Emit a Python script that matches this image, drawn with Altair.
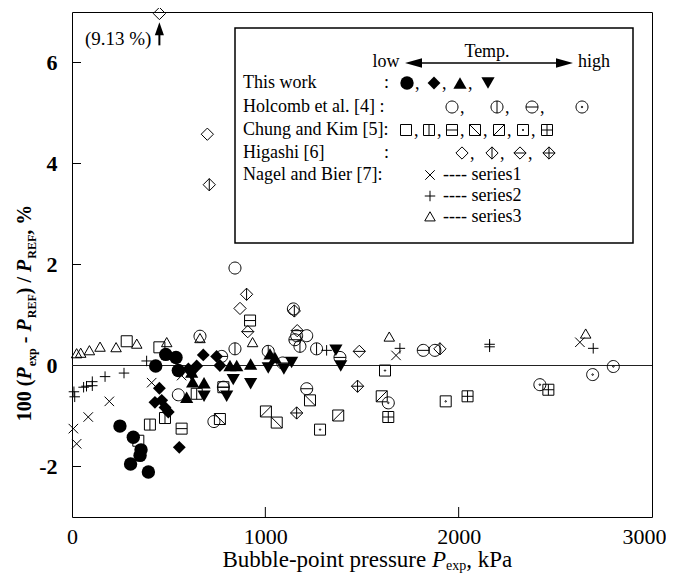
import altair as alt
import pandas as pd

# ---------------- data: x = bubble-point pressure (kPa), y = 100(Pexp-Pref)/Pref (%) ----------------
# This work
tw_circle_x = [248, 303, 317, 352, 357, 395, 433, 485, 538, 550]
tw_circle_y = [-1.20, -1.95, -1.42, -1.78, -1.67, -2.11, -0.01, 0.22, 0.16, -0.10]
tw_diamond_x = [429, 452, 464, 481, 498, 555, 602, 645, 679, 748, 765]
tw_diamond_y = [-0.73, -0.45, -0.69, -0.83, -0.92, -1.62, -0.07, -0.01, 0.21, 0.18, 0.00]
tw_tri_x = [593, 619, 624, 683, 817, 852, 924, 1024, 1050]
tw_tri_y = [-0.63, -0.13, -0.32, -0.34, 0.00, 0.00, 0.03, 0.23, 0.16]
tw_tridown_x = [619, 683, 800, 834, 924, 1015, 1096, 1136, 1365, 1390]
tw_tridown_y = [-0.20, -0.61, -0.61, -0.28, -0.36, -0.05, -0.07, 0.06, 0.30, -0.01]
# Holcomb et al. [4]
ho_circle_x = [550, 662, 734, 843, 1145, 1162, 1214, 1877]
ho_circle_y = [-0.58, 0.58, -1.11, 1.93, 1.12, 0.59, 0.59, 0.30]
ho_cvert_x = [843, 1015, 1179, 1265]
ho_cvert_y = [0.33, 0.28, 0.38, 0.33]
ho_choriz_x = [774, 783, 1090, 1153, 1214, 1386, 1817]
ho_choriz_y = [0.18, -0.43, 0.05, 0.51, -0.46, 0.16, 0.30]
ho_cdot_x = [1636, 2420, 2693, 2800]
ho_cdot_y = [-0.74, -0.38, -0.18, -0.02]
# Chung and Kim [5]
ck_sq_x = [283, 343, 452]
ck_sq_y = [0.48, -1.49, 0.36]
ck_sqvert_x = [403, 481, 645]
ck_sqvert_y = [-1.17, -1.04, -0.56]
ck_sqhoriz_x = [567, 783, 921]
ck_sqhoriz_y = [-1.25, -0.43, 0.89]
ck_sqback_x = [765, 1059, 1231]
ck_sqback_y = [-1.06, -1.13, -0.69]
ck_sqslash_x = [1003, 1377, 1602]
ck_sqslash_y = [-0.91, -0.99, -0.61]
ck_sqdot_x = [1283, 1619, 1933]
ck_sqdot_y = [-1.27, -0.10, -0.71]
ck_sqplus_x = [1636, 2046, 2464]
ck_sqplus_y = [-1.02, -0.61, -0.48]
# Higashi [6]
hg_dia_x = [452, 700, 869]
hg_dia_y = [6.97, 4.58, 1.13]
hg_diavert_x = [710, 903, 1150, 1903]
hg_diavert_y = [3.58, 1.41, 1.08, 0.33]
hg_diahoriz_x = [909, 1165, 1486]
hg_diahoriz_y = [0.67, 0.69, 0.28]
hg_diaplus_x = [1162, 1477]
hg_diaplus_y = [-0.94, -0.41]
# Nagel and Bier [7]
nb_s1_x = [7, 24, 84, 193, 412, 567, 1676, 2627]
nb_s1_y = [-1.25, -1.55, -1.02, -0.71, -0.34, -0.20, 0.20, 0.46]
nb_s2_x = [10, 14, 60, 75, 105, 105, 171, 269, 386, 1317, 1696, 2160, 2160, 2696]
nb_s2_y = [-0.52, -0.62, -0.43, -0.41, -0.32, -0.40, -0.22, -0.15, 0.09, 0.30, 0.34, 0.42, 0.37, 0.34]
nb_s3_x = [24, 45, 90, 145, 228, 335, 490, 662, 934, 1641, 2657]
nb_s3_y = [0.23, 0.24, 0.29, 0.36, 0.35, 0.42, 0.45, 0.53, 0.45, 0.56, 0.62]

x_ticks = [0, 1000, 2000, 3000]
y_ticks = [-2, 0, 2, 4, 6]
outlier_label = "(9.13 %)"
outlier_x, outlier_y = 452, 6.97

# ---------------- styling ----------------
SERIF = "Liberation Serif"
W, H = 580, 505
X0, Y0 = 72, 12  # page position of plot-area origin

CIRC = "M-1,0A1,1,0,1,0,1,0A1,1,0,1,0,-1,0Z"
DOT = "M-0.13,0A0.13,0.13,0,1,0,0.13,0A0.13,0.13,0,1,0,-0.13,0Z"
SQ = "M-1,-1L1,-1L1,1L-1,1Z"
DIA = "M0,-1L1,0L0,1L-1,0Z"
VLN = "M0,-1L0,1"
HLN = "M-1,0L1,0"

STYLE = {
    "tw1": ("circle", 180, True),
    "tw2": ("diamond", 165, True),
    "tw3": ("triangle-up", 175, True),
    "tw4": ("triangle-down", 175, True),
    "ho1": (CIRC, 144, False),
    "ho2": (CIRC + VLN, 144, False),
    "ho3": (CIRC + HLN, 144, False),
    "ho4": (CIRC + DOT, 144, False),
    "ck1": (SQ, 121, False),
    "ck2": (SQ + VLN, 121, False),
    "ck3": (SQ + HLN, 121, False),
    "ck4": (SQ + "M-1,-1L1,1", 121, False),
    "ck5": (SQ + "M-1,1L1,-1", 121, False),
    "ck6": (SQ + DOT, 121, False),
    "ck7": (SQ + VLN + HLN, 121, False),
    "hg1": (DIA, 150, False),
    "hg2": (DIA + VLN, 150, False),
    "hg3": (DIA + HLN, 150, False),
    "hg4": (DIA + VLN + HLN, 150, False),
    "nb1": ("M-1,-1L1,1M-1,1L1,-1", 90, False),
    "nb2": ("M-1,0L1,0M0,-1L0,1", 110, False),
    "nb3": ("M0,-1L1,0.75L-1,0.75Z", 110, False),
}

SERIES = {
    "tw1": (tw_circle_x, tw_circle_y), "tw2": (tw_diamond_x, tw_diamond_y),
    "tw3": (tw_tri_x, tw_tri_y), "tw4": (tw_tridown_x, tw_tridown_y),
    "ho1": (ho_circle_x, ho_circle_y), "ho2": (ho_cvert_x, ho_cvert_y),
    "ho3": (ho_choriz_x, ho_choriz_y), "ho4": (ho_cdot_x, ho_cdot_y),
    "ck1": (ck_sq_x, ck_sq_y), "ck2": (ck_sqvert_x, ck_sqvert_y),
    "ck3": (ck_sqhoriz_x, ck_sqhoriz_y), "ck4": (ck_sqback_x, ck_sqback_y),
    "ck5": (ck_sqslash_x, ck_sqslash_y), "ck6": (ck_sqdot_x, ck_sqdot_y),
    "ck7": (ck_sqplus_x, ck_sqplus_y),
    "hg1": (hg_dia_x, hg_dia_y), "hg2": (hg_diavert_x, hg_diavert_y),
    "hg3": (hg_diahoriz_x, hg_diahoriz_y), "hg4": (hg_diaplus_x, hg_diaplus_y),
    "nb1": (nb_s1_x, nb_s1_y), "nb2": (nb_s2_x, nb_s2_y), "nb3": (nb_s3_x, nb_s3_y),
}

xs = alt.Scale(domain=[0, 3000], nice=False, zero=False)
ys = alt.Scale(domain=[-3, 7], nice=False, zero=False)
ONE = pd.DataFrame({"a": [0]})

XA = alt.Axis(values=x_ticks, ticks=False, domain=False, grid=False,
              labelFont=SERIF, labelFontSize=22, labelColor="black", labelPadding=9,
              labelFlush=False, format="d", title=None,
              labelOffset={"condition": {"test": "datum.value == 3000", "value": -8}, "value": 0})
YA = alt.Axis(values=y_ticks, ticks=False, domain=False, grid=False,
              labelFont=SERIF, labelFontSize=22, labelFontWeight="bold", labelColor="black",
              labelPadding=15, labelExpr="datum.value < 0 ? '-' + abs(datum.value) : '' + datum.value",
              title=None)


def X(f):
    return alt.X(f, scale=xs, axis=XA)


def Y(f):
    return alt.Y(f, scale=ys, axis=YA)


layers = []

# inward ticks and zero line
layers.append(alt.Chart(pd.DataFrame({"v": y_ticks})).mark_rule(color="black", strokeWidth=1).encode(
    y=Y("v:Q"), x=alt.value(0), x2=alt.value(9)))
layers.append(alt.Chart(pd.DataFrame({"v": [1000, 2000]})).mark_rule(color="black", strokeWidth=1).encode(
    x=X("v:Q"), y=alt.value(H), y2=alt.value(H - 10)))
layers.append(alt.Chart(pd.DataFrame({"v": [0]})).mark_rule(color="#222", strokeWidth=1).encode(
    y=Y("v:Q"), x=alt.value(0), x2=alt.value(W)))

# data points
for key, (xv, yv) in SERIES.items():
    shape, size, filled = STYLE[key]
    df = pd.DataFrame({"x": xv, "y": yv})
    layers.append(alt.Chart(df).mark_point(shape=shape, size=size, filled=filled, color="black",
                                           opacity=1, strokeWidth=1).encode(
        x=X("x:Q"), y=Y("y:Q")))

# outlier annotation (9.13 %)
odf = pd.DataFrame({"x": [outlier_x], "y": [6.34], "y2": [6.67], "yt": [6.47], "t": [outlier_label]})
layers.append(alt.Chart(odf).mark_rule(color="black", strokeWidth=2).encode(
    x=X("x:Q"), y=Y("y:Q"), y2="y2:Q"))
layers.append(alt.Chart(odf).mark_point(shape="M0,-1L0.7,1L-0.7,1Z", size=169, filled=True,
                                        color="black", opacity=1).encode(
    x=X("x:Q"), y=Y("y2:Q")))
layers.append(alt.Chart(odf).mark_text(font=SERIF, fontSize=19, align="right", baseline="middle",
                                       dx=-8, color="black").encode(
    x=X("x:Q"), y=Y("yt:Q"), text="t:N"))


def T(s, px, py, size=18, align="left", baseline="middle", weight="normal", style="normal", angle=0):
    return alt.Chart(ONE).mark_text(text=s, font=SERIF, fontSize=size, fontWeight=weight,
                                    fontStyle=style, align=align, baseline=baseline, angle=angle,
                                    color="black").encode(x=alt.value(px - X0), y=alt.value(py - Y0))


def S(key, px, py):
    shape, size, filled = STYLE[key]
    return alt.Chart(ONE).mark_point(shape=shape, size=size, filled=filled, color="black",
                                     opacity=1, strokeWidth=1).encode(
        x=alt.value(px - X0), y=alt.value(py - Y0))


# legend box
layers.append(alt.Chart(ONE).mark_rect(fill="white", stroke="black", strokeWidth=1.5).encode(
    x=alt.value(235 - X0), x2=alt.value(633 - X0), y=alt.value(28 - Y0), y2=alt.value(243 - Y0)))
layers.append(T("Temp.", 487, 52, align="center"))
layers.append(T("low", 386, 62, align="center"))
layers.append(T("high", 594, 62, align="center"))
layers.append(alt.Chart(ONE).mark_rule(color="black", strokeWidth=1.5).encode(
    x=alt.value(413 - X0), x2=alt.value(565 - X0), y=alt.value(63 - Y0)))
layers.append(alt.Chart(ONE).mark_point(shape="M-1,0L1,-0.55L1,0.55Z", size=289, filled=True,
                                        color="black", opacity=1).encode(
    x=alt.value(413.5 - X0), y=alt.value(63 - Y0)))
layers.append(alt.Chart(ONE).mark_point(shape="M1,0L-1,-0.55L-1,0.55Z", size=289, filled=True,
                                        color="black", opacity=1).encode(
    x=alt.value(564.5 - X0), y=alt.value(63 - Y0)))

rows = [
    ("This work", 83, ":", [("tw1", 407), ("tw2", 434), ("tw3", 460), ("tw4", 488)]),
    ("Holcomb et al. [4] :", 107, None, [("ho1", 452), ("ho2", 497), ("ho3", 532), ("ho4", 582)]),
    ("Chung and Kim [5]:", 130, None, [("ck1", 406), ("ck2", 429), ("ck3", 452), ("ck4", 475),
                                        ("ck5", 499), ("ck6", 523), ("ck7", 547)]),
    ("Higashi [6]", 153, ":", [("hg1", 462), ("hg2", 492), ("hg3", 520), ("hg4", 549)]),
    ("Nagel and Bier [7]:", 175, None, [("nb1", 430)]),
]
for label, py, colon, syms in rows:
    layers.append(T(label, 243, py))
    if colon:
        layers.append(T(colon, 384, py))
    for i, (k, sx) in enumerate(syms):
        layers.append(S(k, sx, py))
        if i < len(syms) - 1 and len(syms) > 1:
            layers.append(T(",", sx + 8, py + 1))
layers.append(T("---- series1", 443, 175))
layers.append(S("nb2", 430, 196))
layers.append(T("---- series2", 443, 196))
layers.append(S("nb3", 430, 217))
layers.append(T("---- series3", 443, 217))

# ---------------- axis titles with italics and subscripts ----------------
REGW = {' ': 250, '(': 333, ')': 333, '/': 278, ',': 250, '%': 833, '-': 333, '.': 250,
        'B': 667, 'P': 611, 'R': 667, 'E': 611, 'F': 556, 'a': 444, 'b': 500, 'e': 444,
        'i': 278, 'k': 500, 'l': 278, 'n': 500, 'o': 500, 'p': 500, 'r': 333, 's': 389,
        't': 278, 'u': 500, 'x': 500}
BOLDW = dict(REGW)
BOLDW.update({'%': 1000, 'P': 667, 'R': 722, 'E': 667, 'F': 611, 'p': 556})


def wid(s, size, bold):
    tbl = BOLDW if bold else REGW
    return sum(tbl.get(c, 500) for c in s) * size / 1000.0


xt_pieces = [("Bubble-point pressure ", 23, "normal", 0), ("P", 23, "italic", 0),
             ("exp", 14, "normal", 3), (", kPa", 23, "normal", 0)]
total = sum(wid(s, sz, False) for s, sz, st, sh in xt_pieces)
cur = 368 - total / 2
for s, sz, st, sh in xt_pieces:
    lead = len(s) - len(s.lstrip())
    layers.append(T(s.strip(), cur + wid(s[:lead], sz, False), 567 + sh, size=sz,
                    baseline="alphabetic", style=st))
    cur += wid(s, sz, False)

yt_pieces = [("100 (", 20, "normal", 0), ("P", 20, "italic", 0), ("exp", 12, "normal", 5),
             (" - ", 20, "normal", 0), ("P", 20, "italic", 0), ("REF", 12, "normal", 5),
             (") / ", 20, "normal", 0), ("P", 20, "italic", 0), ("REF", 12, "normal", 5),
             (", %", 20, "normal", 0)]
total = sum(wid(s, sz, True) for s, sz, st, sh in yt_pieces)
cur = 313 + total / 2
for s, sz, st, sh in yt_pieces:
    lead = len(s) - len(s.lstrip())
    layers.append(T(s.strip(), 31 + sh, cur - wid(s[:lead], sz, True), size=sz,
                    baseline="alphabetic", weight="bold", style=st, angle=270))
    cur -= wid(s, sz, True)

chart = alt.layer(*layers).properties(
    width=W, height=H,
    padding={"left": 64, "top": 4, "right": 14, "bottom": 62},
    autosize="none",
).configure_view(stroke="black", strokeWidth=1)

chart.save("out.html", embed_options={"renderer": "svg", "actions": False})
